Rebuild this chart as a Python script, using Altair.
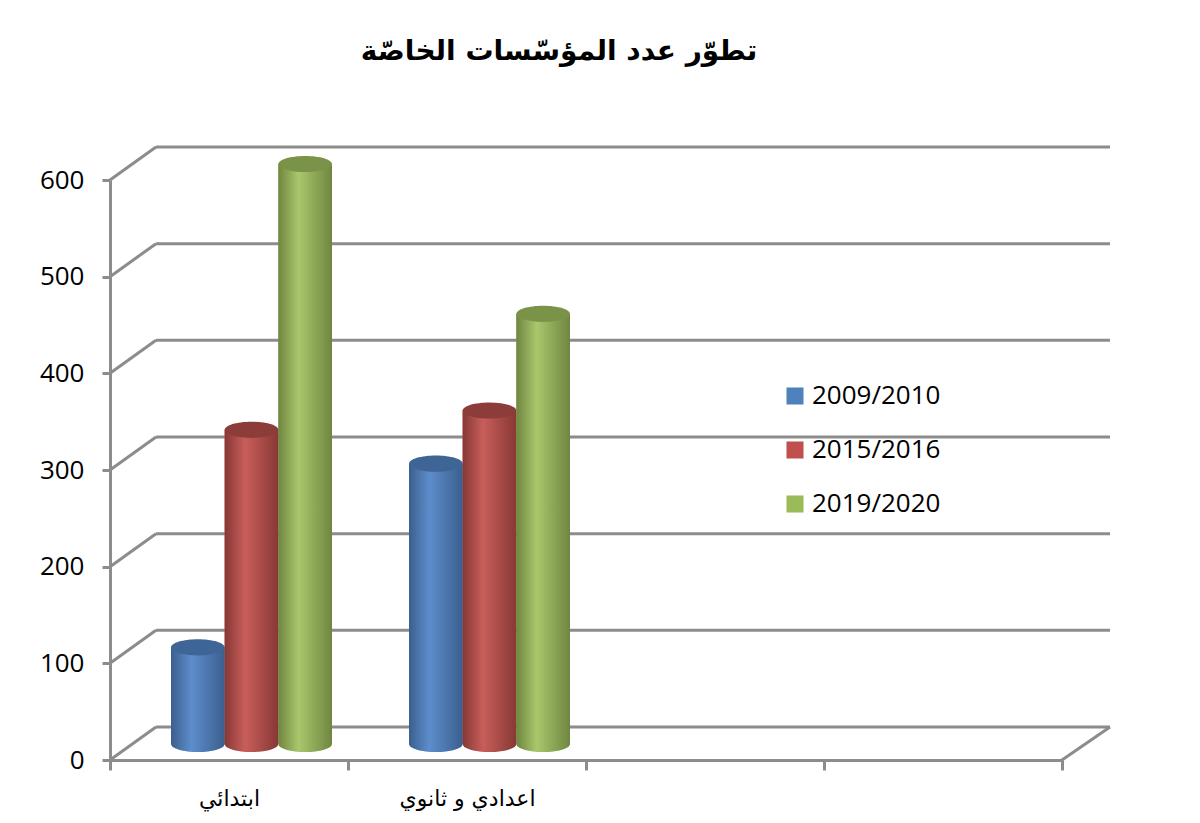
import altair as alt
import pandas as pd

# ---------------- data ----------------
title_text = "تطوّر عدد المؤسّسات الخاصّة"
categories = ["ابتدائي", "اعدادي و ثانوي"]
empty_slots = [" ", "  "]          # two empty category slots on the axis
series = ["2009/2010", "2015/2016", "2019/2020"]
values_2009_2010 = [100, 290]
values_2015_2016 = [325, 345]
values_2019_2020 = [600, 445]
y_ticks = [0, 100, 200, 300, 400, 500, 600]

# ---------------- styling ----------------
base_colors = ["#4f81bd", "#c0504d", "#9bbb59"]
dark_edge = ["#3b5f8e", "#873835", "#6f8640"]
light_mid = ["#5d8dcc", "#c85e5a", "#aac76c"]
top_colors = ["#3f6596", "#8c3c39", "#7b9348"]

W, H = 952, 580
DX, DY = 46, 33          # 3D depth of the walls
GRID = "#8c8c8c"
LW = 3
AXIS_FONT = "Open Sans"
ELLIPSE = "M-1,0A1,0.3,0,1,0,1,0A1,0.3,0,1,0,-1,0Z"

df = pd.DataFrame({
    "cat": categories * 3,
    "series": [s for s in series for _ in categories],
    "value": values_2009_2010 + values_2015_2016 + values_2019_2020,
})
ticks_df = pd.DataFrame({"value": y_ticks})
zero_df = pd.DataFrame({"value": [0]})

x_scale = alt.Scale(domain=categories + empty_slots, paddingInner=0, paddingOuter=0)
y_scale = alt.Scale(domain=[0, 600], nice=False, zero=True)
off_scale = alt.Scale(domain=series, range=[61, 222])

y_axis = alt.Axis(
    values=y_ticks, grid=False, title=None, domainColor=GRID, domainWidth=LW,
    tickColor=GRID, tickWidth=LW, tickSize=8, labelFontSize=26, labelFont=AXIS_FONT,
    labelColor="#000", labelPadding=18)
x_axis = alt.Axis(
    title=None, tickBand="extent", labelAngle=0, domainColor=GRID, domainWidth=LW,
    tickColor=GRID, tickWidth=LW, tickSize=10, labelFontSize=22, labelFont="DejaVu Sans",
    labelColor="#000", labelPadding=18)

# base bars (give axes and legend)
base = alt.Chart(df).mark_bar(yOffset=-16, y2Offset=-16).encode(
    x=alt.X("cat:N", scale=x_scale, axis=x_axis),
    xOffset=alt.XOffset("series:N", scale=off_scale),
    y=alt.Y("value:Q", scale=y_scale, axis=y_axis),
    color=alt.Color("series:N", scale=alt.Scale(domain=series, range=base_colors),
                    legend=alt.Legend(title=None, orient="none", legendX=672, legendY=203,
                                      symbolType="square", symbolSize=290, symbolStrokeWidth=0,
                                      labelFontSize=26, labelFont="Open Sans", labelColor="#000",
                                      rowPadding=28, labelOffset=4)),
)

# back wall gridlines
wall = alt.Chart(ticks_df).mark_rule(color=GRID, strokeWidth=LW, yOffset=-DY).encode(
    x=alt.value(DX), x2=alt.value(W + 48),
    y=alt.Y("value:Q", scale=y_scale, axis=y_axis),
)
# left wall diagonals
diag = alt.Chart(ticks_df).mark_rule(color=GRID, strokeWidth=LW, y2Offset=-DY).encode(
    x=alt.value(0), x2=alt.value(DX),
    y=alt.Y("value:Q", scale=y_scale, axis=y_axis), y2="value:Q",
)
# floor right diagonal
floor = alt.Chart(zero_df).mark_rule(color=GRID, strokeWidth=LW, y2Offset=-DY).encode(
    x=alt.value(W), x2=alt.value(W + 48),
    y=alt.Y("value:Q", scale=y_scale, axis=y_axis), y2="value:Q",
)

layers = [base, wall, diag, floor]
for s, d, l, t in zip(series, dark_edge, light_mid, top_colors):
    grad = alt.Gradient(gradient="linear", x1=0, x2=1, y1=0, y2=0, stops=[
        alt.GradientStop(color=d, offset=0),
        alt.GradientStop(color=l, offset=0.38),
        alt.GradientStop(color=d, offset=1),
    ])
    sub = alt.Chart(df).transform_filter(alt.datum.series == s)
    enc = dict(
        x=alt.X("cat:N", scale=x_scale, axis=x_axis),
        xOffset=alt.XOffset("series:N", scale=off_scale),
    )
    bottom = sub.transform_calculate(base0="0").mark_point(
        shape=ELLIPSE, size=2880, filled=True, opacity=1, color=grad, yOffset=-16).encode(
        y=alt.Y("base0:Q", scale=y_scale, axis=y_axis), **enc)
    bar = sub.mark_bar(color=grad, yOffset=-16, y2Offset=-16).encode(
        y=alt.Y("value:Q", scale=y_scale, axis=y_axis), **enc)
    top = sub.mark_point(shape=ELLIPSE, size=2880, filled=True, opacity=1,
                         color=t, yOffset=-16).encode(
        y=alt.Y("value:Q", scale=y_scale, axis=y_axis), **enc)
    layers += [bottom, bar, top]

chart = alt.layer(*layers).properties(
    width=W, height=H,
    autosize=alt.AutoSizeParams(type="none"),
    padding={"left": 102, "top": 172, "right": 130, "bottom": 55},
    background="white",
    title=alt.TitleParams(title_text, font="DejaVu Sans", fontSize=28, fontWeight="bold",
                          anchor="middle", dx=-27, offset=80, color="#000"),
).configure_view(stroke=None)

chart.save("out.html", embed_options={"renderer": "svg", "actions": False})
